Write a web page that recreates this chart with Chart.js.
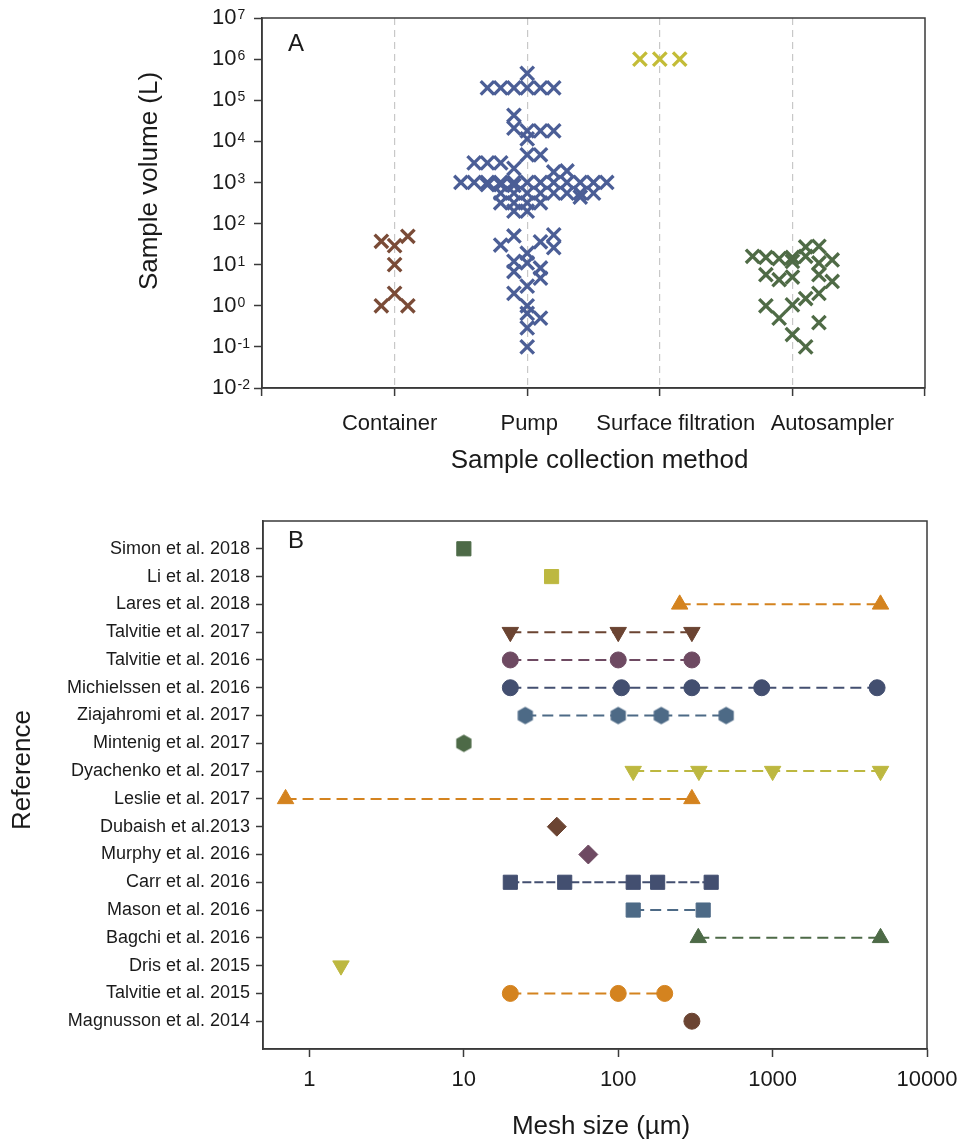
<!DOCTYPE html>
<html><head><meta charset="utf-8">
<script src="https://cdn.jsdelivr.net/npm/chart.js@4.4.0/dist/chart.umd.min.js"></script>
<style>
html,body{margin:0;padding:0;background:#fff;}
#wrap{position:relative;width:960px;height:1144px;background:#fff;}
#ca{position:absolute;left:0;top:0;width:960px;height:490px;}
#cb{position:absolute;left:0;top:490px;width:960px;height:654px;}
</style></head><body>
<div id="wrap"><canvas id="ca" width="960" height="490"></canvas><canvas id="cb" width="960" height="654"></canvas></div>
<script>
// ---------------- Panel A data ----------------
const methodCategories = ['Container', 'Pump', 'Surface filtration', 'Autosampler'];
const volumeTickExponents = [-2, -1, 0, 1, 2, 3, 4, 5, 6, 7];

const containerVolume = [37, 29, 49, 10, 2, 1, 1];
const containerSlot   = [-1, 0, 1, 0, 0, -1, 1];

const pumpVolume = [4.5e5, 2e5, 2e5, 2e5, 2e5, 2e5, 2e5, 4.3e4, 2.1e4, 1.8e4, 1.8e4, 1.8e4, 1.15e4,
  4.7e3, 4.7e3, 3e3, 3e3, 3e3, 2.2e3, 1.8e3, 1.9e3,
  1e3, 1e3, 1e3, 1e3, 1e3, 1e3, 1e3, 1e3, 1e3, 1e3, 1e3, 1e3,
  880, 880, 850, 550, 550, 550, 550, 550, 550, 550, 550, 440, 320, 320, 320, 320, 200, 200,
  50, 30, 36, 53, 26, 19, 12, 11, 8.3, 6.8, 4.7, 3, 2, 1, 0.65, 0.5, 0.29, 0.1];
const pumpSlot = [0, -3, -2, -1, 0, 1, 2, -1, -1, 0, 1, 2, 0,
  0, 1, -4, -3, -2, -1, 2, 3,
  -5, -4, -3, -2, -1, 0, 1, 2, 3, 4, 5, 6,
  -3, -2, -1, -2, -1, 0, 1, 2, 3, 4, 5, 4, -2, -1, 0, 1, -1, 0,
  -1, -2, 1, 2, 2, 0, -1, 0, 1, -1, 1, 0, -1, 0, 0, 1, 0, 0];

const surfaceVolume = [1e6, 1e6, 1e6];
const surfaceSlot   = [-1.5, 0, 1.5];

const autoVolume = [16, 15, 14, 15, 27, 28, 12, 16, 11, 13, 5.7, 4.3, 5, 5.7, 3.9, 2, 1.5, 1.05, 1, 0.5, 0.39, 0.2, 0.1];
const autoSlot   = [-3, -2, -1, 0, 1, 2, 0, 1, 2, 3, -2, -1, 0, 2, 3, 2, 1, 0, -2, -1, 2, 0, 1];

// ---------------- Panel B data ----------------
const references = ['Simon et al. 2018', 'Li et al. 2018', 'Lares et al. 2018', 'Talvitie et al. 2017',
  'Talvitie et al. 2016', 'Michielssen et al. 2016', 'Ziajahromi et al. 2017', 'Mintenig et al. 2017',
  'Dyachenko et al. 2017', 'Leslie et al. 2017', 'Dubaish et al.2013', 'Murphy et al. 2016',
  'Carr et al. 2016', 'Mason et al. 2016', 'Bagchi et al. 2016', 'Dris et al. 2015',
  'Talvitie et al. 2015', 'Magnusson et al. 2014'];
const meshSizes = [[10], [37], [250, 5000], [20, 100, 300],
  [20, 100, 300], [20, 105, 300, 850, 4750], [25, 100, 190, 500], [10],
  [125, 333, 1000, 5000], [0.7, 300], [40], [64],
  [20, 45, 125, 180, 400], [125, 355], [330, 5000], [1.6],
  [20, 100, 200], [300]];
const meshTicks = [1, 10, 100, 1000, 10000];
const meshTickLabels = ['1', '10', '100', '1000', '10000'];

// ---------------- styles ----------------
const FONT = "'Liberation Sans', Arial, Helvetica, sans-serif";
const INK = '#1a1a1a';
const AXIS = '#3a3a3a';
const methodColors = ['#7a4b37', '#4b5e96', '#c3bc37', '#4f6b46'];
const cycleColors = ['#4d6a47', '#bdb840', '#d4831f', '#6b4432', '#6e4a62', '#434f70', '#4d6a86'];
const refShapes = ['rect', 'rect', 'triangle', 'down', 'circle', 'circle', 'hex', 'hex', 'down', 'triangle',
  'diamond', 'diamond', 'rect', 'rect', 'triangle', 'down', 'circle', 'circle'];
const refDash = {12: [9, 3]};

Chart.defaults.font.family = FONT;
Chart.defaults.color = INK;

const SLOT = 0.1;
function swarm(ci, slots, vols) {
  return vols.map((v, i) => ({x: ci + 1 + slots[i] * SLOT, y: v}));
}

const groupVols = [containerVolume, pumpVolume, surfaceVolume, autoVolume];
const groupSlots = [containerSlot, pumpSlot, surfaceSlot, autoSlot];
const dsA = methodCategories.map((c, ci) => ({
  label: c,
  data: swarm(ci, groupSlots[ci], groupVols[ci]),
  pointStyle: 'crossRot',
  pointRadius: 9.5,
  pointBorderWidth: 3.3,
  borderColor: methodColors[ci],
  backgroundColor: methodColors[ci],
  showLine: false
}));

const labelShiftA = [-5, 2, 16, 40];

const panelAText = {
  id: 'panelAText',
  afterDraw(chart) {
    const {ctx, chartArea: a, scales: {x, y}} = chart;
    ctx.save();
    ctx.strokeStyle = AXIS; ctx.lineWidth = 1.5;
    ctx.strokeRect(a.left, a.top, a.right - a.left, a.bottom - a.top);
    ctx.fillStyle = INK;
    volumeTickExponents.forEach(e => {
      const py = y.getPixelForValue(Math.pow(10, e));
      ctx.font = '22px ' + FONT; ctx.textAlign = 'left'; ctx.textBaseline = 'middle';
      const lx = a.left - 50;
      ctx.fillText('10', lx, py);
      const w = ctx.measureText('10').width;
      ctx.font = '14px ' + FONT; ctx.textBaseline = 'alphabetic';
      ctx.fillText(String(e), lx + w + 1, py + 1);
    });
    ctx.font = '22px ' + FONT; ctx.textAlign = 'center'; ctx.textBaseline = 'middle';
    methodCategories.forEach((c, i) => {
      ctx.fillText(c, x.getPixelForValue(i + 1) + labelShiftA[i], a.bottom + 36);
    });
    ctx.font = '26px ' + FONT;
    ctx.fillText('Sample collection method', (a.left + a.right) / 2 + 6, a.bottom + 73);
    ctx.save();
    ctx.translate(a.left - 112, a.top + 163);
    ctx.rotate(-Math.PI / 2);
    ctx.fillText('Sample volume (L)', 0, 0);
    ctx.restore();
    ctx.font = '24px ' + FONT; ctx.textAlign = 'left';
    ctx.fillText('A', a.left + 26, a.top + 26);
    ctx.restore();
  }
};

new Chart(document.getElementById('ca'), {
  type: 'scatter',
  data: {datasets: dsA},
  options: {
    responsive: false, animation: false, events: [],
    layout: {padding: {left: 0, right: 35, top: 18, bottom: 0}},
    plugins: {legend: {display: false}, tooltip: {enabled: false}},
    scales: {
      x: {
        type: 'linear', min: 0, max: 5,
        afterBuildTicks: s => { s.ticks = [0, 1, 2, 3, 4, 5].map(v => ({value: v})); },
        afterFit: s => { s.height = 102; },
        ticks: {display: false},
        grid: {
          display: true, drawOnChartArea: true, drawTicks: true, tickLength: 8,
          color: c => (c.tick && c.tick.value >= 1 && c.tick.value <= 4) ? '#c8c8c8' : 'rgba(0,0,0,0)',
          lineWidth: 1.2, tickColor: AXIS, tickWidth: 1.5
        },
        border: {display: true, color: AXIS, width: 1.5, dash: [7, 5]}
      },
      y: {
        type: 'logarithmic', min: 0.01, max: 1e7,
        afterBuildTicks: s => { s.ticks = volumeTickExponents.map(e => ({value: Math.pow(10, e)})); },
        afterFit: s => { s.width = 262; },
        ticks: {display: false},
        grid: {display: true, drawOnChartArea: false, drawTicks: true, tickLength: 8, tickColor: AXIS, tickWidth: 1.5},
        border: {display: true, color: AXIS, width: 1.5}
      }
    }
  },
  plugins: [panelAText]
});

// ---------------- Panel B ----------------
function makeHex(color, r) {
  const c = document.createElement('canvas');
  const size = Math.ceil(2 * r + 2);
  c.width = size; c.height = size;
  const g = c.getContext('2d');
  g.fillStyle = color;
  g.beginPath();
  for (let k = 0; k < 6; k++) {
    const ang = -Math.PI / 2 + k * Math.PI / 3;
    const px = size / 2 + r * Math.cos(ang), py = size / 2 + r * Math.sin(ang);
    if (k === 0) g.moveTo(px, py); else g.lineTo(px, py);
  }
  g.closePath(); g.fill();
  return c;
}

function shapeOpts(shape, color) {
  switch (shape) {
    case 'rect': return {pointStyle: 'rect', pointRadius: 10, pointRotation: 0};
    case 'circle': return {pointStyle: 'circle', pointRadius: 8, pointRotation: 0};
    case 'triangle': return {pointStyle: 'triangle', pointRadius: 9.5, pointRotation: 0};
    case 'down': return {pointStyle: 'triangle', pointRadius: 9.5, pointRotation: 180};
    case 'diamond': return {pointStyle: 'rectRot', pointRadius: 9.5, pointRotation: 0};
    case 'hex': return {pointStyle: makeHex(color, 8.8), pointRadius: 9, pointRotation: 0};
  }
}

const dsB = references.map((r, i) => {
  const color = cycleColors[i % cycleColors.length];
  return Object.assign({
    label: r,
    data: meshSizes[i].map(v => ({x: v, y: i + 1})),
    showLine: meshSizes[i].length > 1,
    borderColor: color,
    backgroundColor: color,
    pointBackgroundColor: color,
    pointBorderColor: color,
    pointBorderWidth: 1,
    borderWidth: 2,
    borderDash: refDash[i] || [11, 6]
  }, shapeOpts(refShapes[i], color));
});

const panelBText = {
  id: 'panelBText',
  afterDraw(chart) {
    const {ctx, chartArea: a, scales: {x}} = chart;
    ctx.save();
    ctx.strokeStyle = AXIS; ctx.lineWidth = 1.5;
    ctx.strokeRect(a.left, a.top, a.right - a.left, a.bottom - a.top);
    ctx.fillStyle = INK; ctx.textAlign = 'center'; ctx.textBaseline = 'middle';
    ctx.font = '22px ' + FONT;
    meshTicks.forEach((v, i) => {
      ctx.fillText(meshTickLabels[i], x.getPixelForValue(v), a.bottom + 31);
    });
    ctx.font = '26px ' + FONT;
    ctx.fillText('Mesh size (\u00b5m)', (a.left + a.right) / 2 + 6, a.bottom + 78);
    ctx.save();
    ctx.translate(a.left - 240, a.top + 249);
    ctx.rotate(-Math.PI / 2);
    ctx.fillText('Reference', 0, 0);
    ctx.restore();
    ctx.font = '24px ' + FONT; ctx.textAlign = 'left';
    ctx.fillText('B', a.left + 25, a.top + 20);
    ctx.restore();
  }
};

new Chart(document.getElementById('cb'), {
  type: 'scatter',
  data: {datasets: dsB},
  options: {
    responsive: false, animation: false, events: [],
    layout: {padding: {left: 0, right: 33, top: 31, bottom: 0}},
    plugins: {legend: {display: false}, tooltip: {enabled: false}},
    scales: {
      x: {
        type: 'logarithmic', min: 0.5, max: 10000,
        afterBuildTicks: s => { s.ticks = meshTicks.map(v => ({value: v})); },
        afterFit: s => { s.height = 95; },
        ticks: {display: false},
        grid: {display: true, drawOnChartArea: false, drawTicks: true, tickLength: 8, tickColor: AXIS, tickWidth: 1.5},
        border: {display: true, color: AXIS, width: 1.5}
      },
      y: {
        type: 'linear', min: 0, max: references.length + 1, reverse: true,
        afterBuildTicks: s => { s.ticks = references.map((r, i) => ({value: i + 1})); },
        afterFit: s => { s.width = 263; },
        ticks: {
          autoSkip: false, padding: 6, font: {size: 18}, color: INK,
          callback: (v) => references[v - 1]
        },
        grid: {display: true, drawOnChartArea: false, drawTicks: true, tickLength: 7, tickColor: AXIS, tickWidth: 1.5},
        border: {display: true, color: AXIS, width: 1.5}
      }
    }
  },
  plugins: [panelBText]
});
</script>
</body></html>
